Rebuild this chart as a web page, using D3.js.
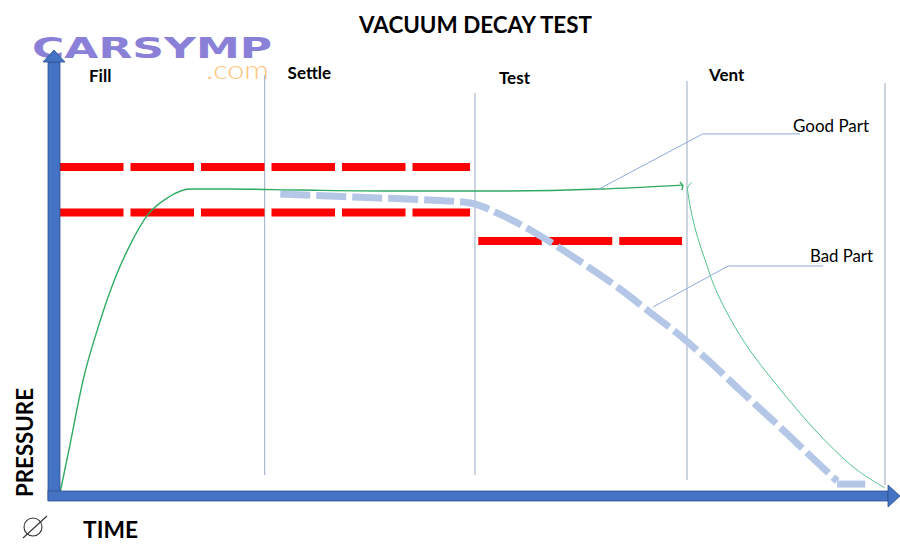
<!DOCTYPE html>
<html>
<head>
<meta charset="utf-8">
<title>Vacuum Decay Test</title>
<style>
  html, body { margin: 0; padding: 0; background: white; }
  svg { display: block; font-family: Lato, "Open Sans", sans-serif; }
</style>
</head>
<body>
<script src="https://cdn.jsdelivr.net/npm/d3@7"></script>
<script>
// time in % of the cycle, pressure in % of the test level
var phases = ["Fill", "Settle", "Test", "Vent"];
var phaseStart = [0, 24.8, 50.3, 76];
var cycleEnd = 100;

// red limit lines
var limitValue = [98.8, 85, 76.4];
var limitFrom = [0, 0, 50.7];
var limitTo = [49.7, 49.7, 75.4];

// good part curve (fill + hold)
var goodT = [0, 1.2, 2.8, 4.9, 6.7, 8.5, 10.6, 13, 15.8, 20.6, 29.1, 41.2, 53.3, 65.5, 75.5];
var goodP = [0, 14.5, 34.2, 52.4, 65.2, 75.2, 84.2, 89.4, 92.1, 92.1, 91.8, 91.5, 91.5, 92.1, 93.3];

// vent curve
var ventT = [76.6, 76.1, 76.2, 76.6, 77.3, 78.2, 79.3, 81.2, 83.6, 86.4, 89.7, 93, 96.6, 100];
var ventP = [94.2, 92.7, 89.7, 84.2, 77.3, 70.6, 62.7, 53, 43.3, 34.2, 24.2, 15.2, 7, 1.5];

// bad part curve (leak)
var badT = [26.7, 32.7, 38.8, 44.8, 49.7, 53.3, 57.0, 60.6, 64.2, 67.9, 71.5, 75.2, 78.8, 82.4, 86.1, 89.7, 94.2];
var badP = [90.6, 90.0, 89.4, 88.8, 87.9, 84.5, 79.7, 74.2, 68.2, 61.8, 54.8, 47.6, 39.7, 31.2, 22.7, 14.2, 3.6];
var badTailT = [94.2, 97.6];
var badTailP = [2.7, 2.7];

// callouts
var calloutText = ["Good Part", "Bad Part"];
var calloutT = [[89.7, 77.9, 65.1], [92.5, 81, 71.9]];
var calloutP = [[108.8, 108.8, 91.8], [68.8, 68.8, 56.4]];

var width = 900, height = 558;
var svg = d3.select("body").append("svg")
    .attr("width", width)
    .attr("height", height);

var x = d3.scaleLinear().domain([0, 100]).range([60, 885]);
var y = d3.scaleLinear().domain([0, 100]).range([493, 163]);

var line = d3.line().x(function(d) { return x(d[0]); }).y(function(d) { return y(d[1]); });

// logo
svg.append("text")
    .attr("x", 32).attr("y", 58)
    .attr("textLength", 240).attr("lengthAdjust", "spacingAndGlyphs")
    .style("font-family", "'DejaVu Sans', sans-serif")
    .style("font-weight", "bold").style("font-size", "29px")
    .style("fill", "#8b80d8")
    .text("CARSYMP");
svg.append("text")
    .attr("x", 206).attr("y", 79)
    .attr("textLength", 63).attr("lengthAdjust", "spacingAndGlyphs")
    .style("font-size", "25px").style("font-weight", 300)
    .style("fill", "#fdc57c")
    .text(".com");

// title
svg.append("text")
    .attr("x", 359).attr("y", 33)
    .attr("textLength", 233).attr("lengthAdjust", "spacingAndGlyphs")
    .style("font-weight", "bold").style("font-size", "23px")
    .text("VACUUM DECAY TEST");

// phase boundaries
var lineTop = [75, 93, 81, 83];
var boundaries = phaseStart.slice(1).concat([cycleEnd]);
svg.selectAll(".phase-line")
    .data(boundaries)
    .enter().append("line")
    .attr("class", "phase-line")
    .attr("x1", function(d) { return x(d); })
    .attr("x2", function(d) { return x(d); })
    .attr("y1", function(d, i) { return lineTop[i]; })
    .attr("y2", function(d, i) { return i < 2 ? 475 : (i == 2 ? 480 : 485); })
    .style("stroke", "#a9b8cc").style("stroke-width", 1.2);

var labelY = [82, 79, 84, 81];
var labelDx = [29, 23, 24, 22];
svg.selectAll(".phase-label")
    .data(phases)
    .enter().append("text")
    .attr("class", "phase-label")
    .attr("x", function(d, i) { return x(phaseStart[i]) + labelDx[i]; })
    .attr("y", function(d, i) { return labelY[i]; })
    .style("font-weight", "bold").style("font-size", "17px")
    .text(function(d) { return d; });

// limit lines
svg.selectAll(".limit")
    .data(limitValue)
    .enter().append("line")
    .attr("class", "limit")
    .attr("x1", function(d, i) { return x(limitFrom[i]); })
    .attr("x2", function(d, i) { return x(limitTo[i]); })
    .attr("y1", function(d) { return y(d); })
    .attr("y2", function(d) { return y(d); })
    .style("stroke", "#ff0000").style("stroke-width", 8)
    .style("stroke-dasharray", "63.5,7");

// bad part
svg.append("path")
    .attr("d", line.curve(d3.curveMonotoneX)(d3.zip(badT, badP)))
    .style("fill", "none").style("stroke", "#b4c7e7").style("stroke-width", 7)
    .style("stroke-dasharray", "30,6");
svg.append("path")
    .attr("d", line.curve(d3.curveLinear)(d3.zip(badTailT, badTailP)))
    .style("fill", "none").style("stroke", "#b4c7e7").style("stroke-width", 7);

// good part
svg.append("path")
    .attr("d", line.curve(d3.curveMonotoneX)(d3.zip(goodT, goodP)))
    .style("fill", "none").style("stroke", "#2eaa62").style("stroke-width", 1.4);
// little hook at end of hold
var endX = x(goodT[goodT.length - 1]), endY = y(goodP[goodP.length - 1]);
svg.append("path")
    .attr("d", "M" + (endX - 3) + "," + (endY - 3) + "L" + endX + "," + endY + "L" + (endX - 1) + "," + (endY + 5))
    .style("fill", "none").style("stroke", "#2eaa62").style("stroke-width", 1.4);

// vent
svg.append("path")
    .attr("d", line.curve(d3.curveCatmullRom)(d3.zip(ventT, ventP)))
    .style("fill", "none").style("stroke", "#52c48d").style("stroke-width", 1);

// callouts
calloutText.forEach(function(txt, i) {
    svg.append("path")
        .attr("d", line.curve(d3.curveLinear)(d3.zip(calloutT[i], calloutP[i])))
        .style("fill", "none").style("stroke", "#8faadc").style("stroke-width", 1);
});
svg.append("text").attr("x", 793).attr("y", 132)
    .attr("textLength", 76).attr("lengthAdjust", "spacingAndGlyphs")
    .style("font-size", "17px").text(calloutText[0]);
svg.append("text").attr("x", 810).attr("y", 262)
    .attr("textLength", 63).attr("lengthAdjust", "spacingAndGlyphs")
    .style("font-size", "17px").text(calloutText[1]);

// axes as arrows
var axisFill = "#4472c4", axisEdge = "#2f528f";
svg.append("rect").attr("x", 48).attr("y", 62).attr("width", 12).attr("height", 438)
    .style("fill", axisFill).style("stroke", axisEdge).style("stroke-width", 0.8);
svg.append("path").attr("d", "M43,62L54,50L65,62Z")
    .style("fill", axisFill).style("stroke", axisEdge).style("stroke-width", 0.8);
svg.append("rect").attr("x", 48).attr("y", 491).attr("width", 840).attr("height", 10)
    .style("fill", axisFill).style("stroke", axisEdge).style("stroke-width", 0.8);
svg.append("path").attr("d", "M888,485L900,496L888,507Z")
    .style("fill", axisFill).style("stroke", axisEdge).style("stroke-width", 0.8);

// axis titles
svg.append("text")
    .attr("transform", "translate(33,497) rotate(-90)")
    .attr("textLength", 109).attr("lengthAdjust", "spacingAndGlyphs")
    .style("font-weight", "bold").style("font-size", "23px")
    .text("PRESSURE");
svg.append("text").attr("x", 83).attr("y", 538)
    .attr("textLength", 55).attr("lengthAdjust", "spacingAndGlyphs")
    .style("font-weight", "bold").style("font-size", "22px")
    .text("TIME");

// zero symbol
svg.append("circle").attr("cx", 33).attr("cy", 527).attr("r", 9)
    .style("fill", "none").style("stroke", "#333").style("stroke-width", 1.1);
svg.append("line").attr("x1", 23).attr("y1", 538).attr("x2", 47).attr("y2", 516)
    .style("stroke", "#333").style("stroke-width", 1.1);
</script>
</body>
</html>
